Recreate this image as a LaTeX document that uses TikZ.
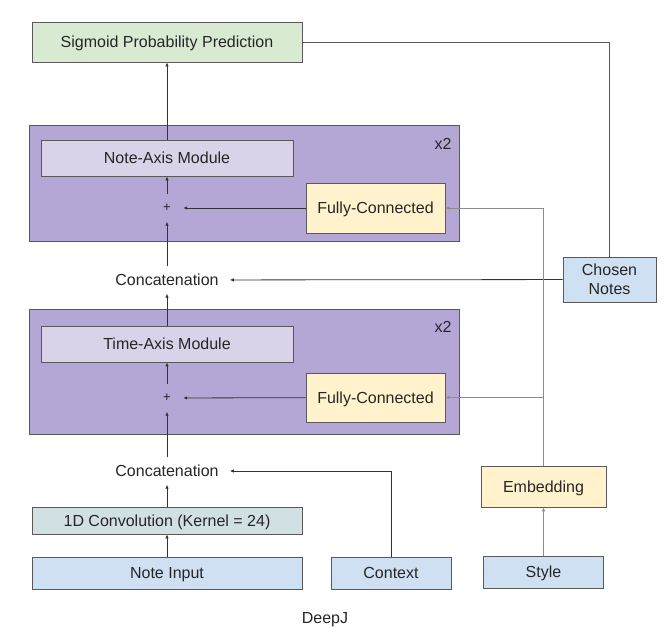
\documentclass[tikz,border=0pt]{standalone}
\usepackage{fontspec}
\setmainfont{Liberation Sans}
\usetikzlibrary{arrows.meta}
\definecolor{myGreen}{HTML}{D9EAD3}
\definecolor{myPurple}{HTML}{B4A7D6}
\definecolor{myLilac}{HTML}{D9D2E9}
\definecolor{myYellow}{HTML}{FFF2CC}
\definecolor{myTeal}{HTML}{D0E0E3}
\definecolor{myBlue}{HTML}{CFE0F3}
\definecolor{myBorder}{HTML}{595959}
\definecolor{myLine}{HTML}{333333}
\definecolor{myGray}{HTML}{8C8C8C}

\begin{document}
\begin{tikzpicture}[x=1pt, y=-1pt, font=\fontsize{16}{18.7}\selectfont]
	\tikzset{box/.style = {draw=myBorder, line width=0.8pt, inner sep=0pt, align=center, text=black!85}}
	\tikzset{oneline/.style = {text height=12.4pt, text depth=1.4pt}}
	\tikzset{word/.style = {inner sep=0pt, text=black!85}}
	\tikzset{flow/.style = {-{Latex[length=4pt, width=3.5pt]}, line width=0.8pt, draw=myLine}}
	\useasboundingbox (0,0) rectangle (668,640);
	
	% Knoten
	\node[box, oneline, fill=myGreen, minimum width=270pt, minimum height=40pt] (sigmoid) at (167,42) {Sigmoid Probability Prediction};
	
	\node[box, fill=myPurple, minimum width=430pt, minimum height=116pt] (noteFrame) at (244,183) {};
	\node[box, oneline, fill=myLilac, minimum width=252pt, minimum height=36pt] (noteAxis) at (167,158) {Note-Axis Module};
	\node[word, font=\fontsize{13}{15}\selectfont, minimum width=32pt, minimum height=27pt] (plusA) at (167,208) {+};
	\node[box, oneline, fill=myYellow, minimum width=139pt, minimum height=50pt] (fcA) at (375.5,208) {Fully-Connected};
	\node[word] (xTwoA) at (443,144) {x2};
	
	\node[word, oneline, inner xsep=11pt, minimum height=27pt] (concatA) at (167,280) {Concatenation};
	\node[box, fill=myBlue, minimum width=93pt, minimum height=45pt] (chosen) at (609.5,279.5) {Chosen\\Notes};
	
	\node[box, fill=myPurple, minimum width=430pt, minimum height=125pt] (timeFrame) at (244,371.5) {};
	\node[box, oneline, fill=myLilac, minimum width=252pt, minimum height=36pt] (timeAxis) at (167,344) {Time-Axis Module};
	\node[word, font=\fontsize{13}{15}\selectfont, minimum width=32pt, minimum height=27pt] (plusB) at (167,398) {+};
	\node[box, oneline, fill=myYellow, minimum width=139pt, minimum height=49pt] (fcB) at (375.5,397.5) {Fully-Connected};
	\node[word] (xTwoB) at (443,327) {x2};
	
	\node[word, oneline, inner xsep=11pt, minimum height=27pt] (concatB) at (167,471) {Concatenation};
	\node[box, oneline, fill=myTeal, minimum width=270pt, minimum height=27pt] (conv) at (167,520.5) {1D Convolution (Kernel = 24)};
	\node[box, oneline, fill=myBlue, minimum width=270pt, minimum height=32pt] (noteInput) at (167,573) {Note Input};
	\node[box, oneline, fill=myBlue, minimum width=120pt, minimum height=32pt] (context) at (391,573) {Context};
	\node[box, oneline, fill=myYellow, minimum width=125pt, minimum height=41pt] (embedding) at (543.5,486.5) {Embedding};
	\node[box, oneline, fill=myBlue, minimum width=120pt, minimum height=32pt] (styleIn) at (543.5,572) {Style};
	
	\node[word, oneline] (caption) at (325,618) {DeepJ};
	
	% Kanten
	\draw[flow] (noteInput) -- (conv);
	\draw[flow] (conv) -- (concatB);
	\draw[flow] (context.north) |- (concatB.east);
	\draw[flow] (concatB) -- (plusB);
	\draw[flow] (fcB) -- (plusB);
	\draw[flow] (plusB) -- (timeAxis);
	\draw[flow] (timeAxis) -- (concatA);
	\draw[flow] (chosen) -- (concatA);
	\draw[flow] (concatA) -- (plusA);
	\draw[flow] (fcA) -- (plusA);
	\draw[flow] (plusA) -- (noteAxis);
	\draw[flow] (noteAxis) -- (sigmoid);
	\draw[line width=0.8pt, draw=myBorder] (sigmoid.east) -| (chosen.north);
	
	\draw[flow, draw=myGray] (styleIn) -- (embedding);
	\draw[flow, draw=myGray] (embedding.north) |- (fcA.east);
	\draw[flow, draw=myGray] (embedding.north |- fcB.east) -- (fcB.east);
	
\end{tikzpicture}
\end{document}
